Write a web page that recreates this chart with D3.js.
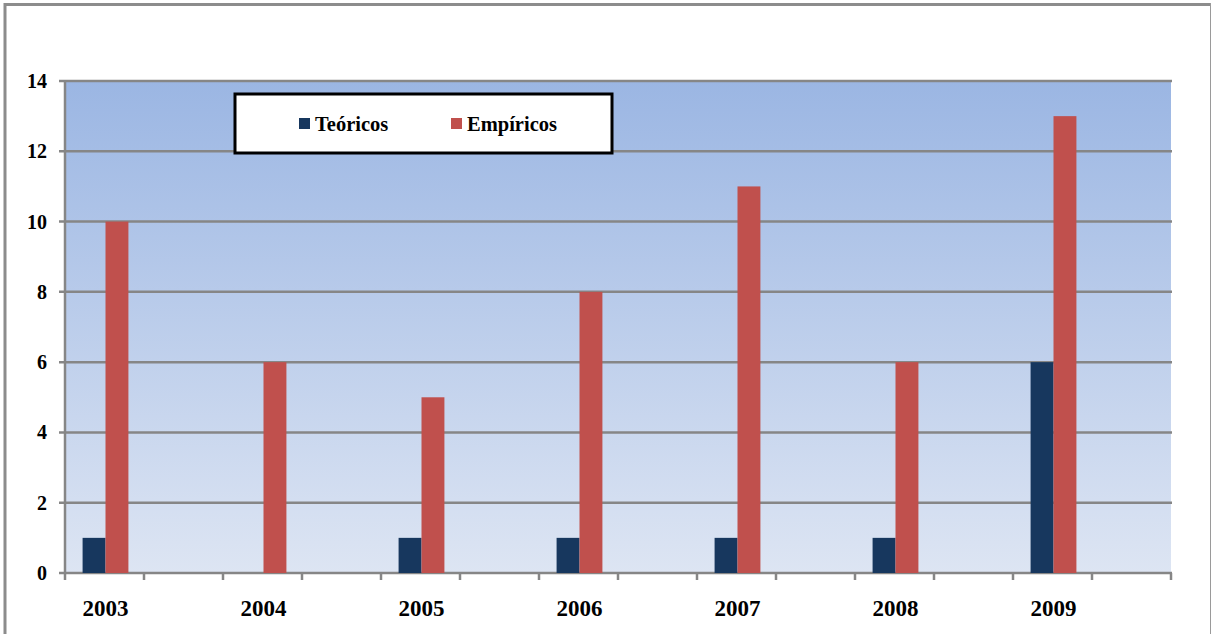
<!DOCTYPE html>
<html><head><meta charset="utf-8">
<script src="https://cdn.jsdelivr.net/npm/d3@7"></script>
<style>body{margin:0;background:#fff}svg{display:block}
text{font-family:"Liberation Serif","Times New Roman","DejaVu Serif",serif;font-weight:bold}</style>
</head><body>
<script>
const years = ["2003","2004","2005","2006","2007","2008","2009"];
const teoricos = [1,0,1,1,1,1,6];
const empiricos = [10,6,5,8,11,6,13];
const seriesNames = ["Teóricos","Empíricos"];
const colors = ["#17375E","#C0504D"];
const yTicks = [0,2,4,6,8,10,12,14];

// each year occupies two category slots; the second is empty
const cats = [];
years.forEach(y => { cats.push(y); cats.push(y + "_gap"); });

const W = 1211, H = 634;
const m = {left:65, right:1171, top:81, bottom:573};

const svg = d3.select("body").append("svg").attr("width", W).attr("height", H);

// outer border
svg.append("line").attr("x1",5).attr("x2",1211).attr("y1",4.5).attr("y2",4.5).attr("stroke","#8c8c8c").attr("stroke-width",3);
svg.append("line").attr("x1",5).attr("x2",5).attr("y1",3).attr("y2",634).attr("stroke","#8c8c8c").attr("stroke-width",3);
svg.append("line").attr("x1",1210.5).attr("x2",1210.5).attr("y1",3).attr("y2",634).attr("stroke","#9a9a9a").attr("stroke-width",1);

const x = d3.scaleBand().domain(cats).range([m.left, m.right]).paddingInner(0).paddingOuter(0);
const y = d3.scaleLinear().domain([0,14]).range([m.bottom, m.top]);
const groupW = x.bandwidth() * 0.58;
const xs = d3.scaleBand().domain(seriesNames).range([0, groupW]);

const defs = svg.append("defs");
const g = defs.append("linearGradient").attr("id","bg").attr("x1",0).attr("x2",0).attr("y1",0).attr("y2",1);
g.append("stop").attr("offset","0%").attr("stop-color","#9BB6E3");
g.append("stop").attr("offset","100%").attr("stop-color","#DDE5F3");

svg.append("rect").attr("x",m.left).attr("y",m.top).attr("width",m.right-m.left).attr("height",m.bottom-m.top).attr("fill","url(#bg)");

// gridlines
svg.append("g").selectAll("line").data(yTicks).join("line")
  .attr("x1", m.left-6).attr("x2", m.right+1)
  .attr("y1", d=>y(d)).attr("y2", d=>y(d))
  .attr("stroke","#868686").attr("stroke-width",2.5);

// y axis line
svg.append("line").attr("x1",m.left).attr("x2",m.left).attr("y1",m.top-1).attr("y2",m.bottom+7)
  .attr("stroke","#868686").attr("stroke-width",2.5);

// x ticks at band boundaries
const bounds = cats.map(c => x(c)).concat([m.right]);
svg.append("g").selectAll("line").data(bounds.slice(1)).join("line")
  .attr("x1", d=>d).attr("x2", d=>d).attr("y1", m.bottom).attr("y2", m.bottom+7)
  .attr("stroke","#868686").attr("stroke-width",2.5);

// y labels
svg.append("g").selectAll("text").data(yTicks).join("text")
  .attr("x", 47).attr("y", d=>y(d)).attr("dy","0.35em").attr("text-anchor","end")
  .attr("font-size",20)
  .text(d=>d);

// bars
const data = years.map((yr,i)=>({yr, vals:[teoricos[i], empiricos[i]]}));
const grp = svg.append("g").selectAll("g").data(data).join("g")
  .attr("transform", d=>`translate(${x(d.yr) + (x.bandwidth()-groupW)/2 + 1},0)`);
grp.selectAll("rect").data(d=>d.vals.map((v,j)=>({v, s:seriesNames[j], c:colors[j]})).filter(e=>e.v>0)).join("rect")
  .attr("x", e=>xs(e.s)).attr("width", xs.bandwidth())
  .attr("y", e=>y(e.v)).attr("height", e=>y(0)-y(e.v))
  .attr("fill", e=>e.c);

// x labels
svg.append("g").selectAll("text").data(years).join("text")
  .attr("x", d=>x(d)+x.bandwidth()/2+1).attr("y", 616).attr("text-anchor","middle")
  .attr("font-size",23)
  .text(d=>d);

// legend
const lg = svg.append("g");
lg.append("rect").attr("x",235).attr("y",94).attr("width",377).attr("height",59)
  .attr("fill","#fff").attr("stroke","#000").attr("stroke-width",3);
const lx = [299, 451];
seriesNames.forEach((n,i)=>{
  lg.append("rect").attr("x",lx[i]).attr("y",118).attr("width",11).attr("height",11).attr("fill",colors[i]);
  lg.append("text").attr("x",lx[i]+16).attr("y",131)
    .attr("font-size",20.5).attr("fill","#000").text(n);
});
</script>
</body></html>
